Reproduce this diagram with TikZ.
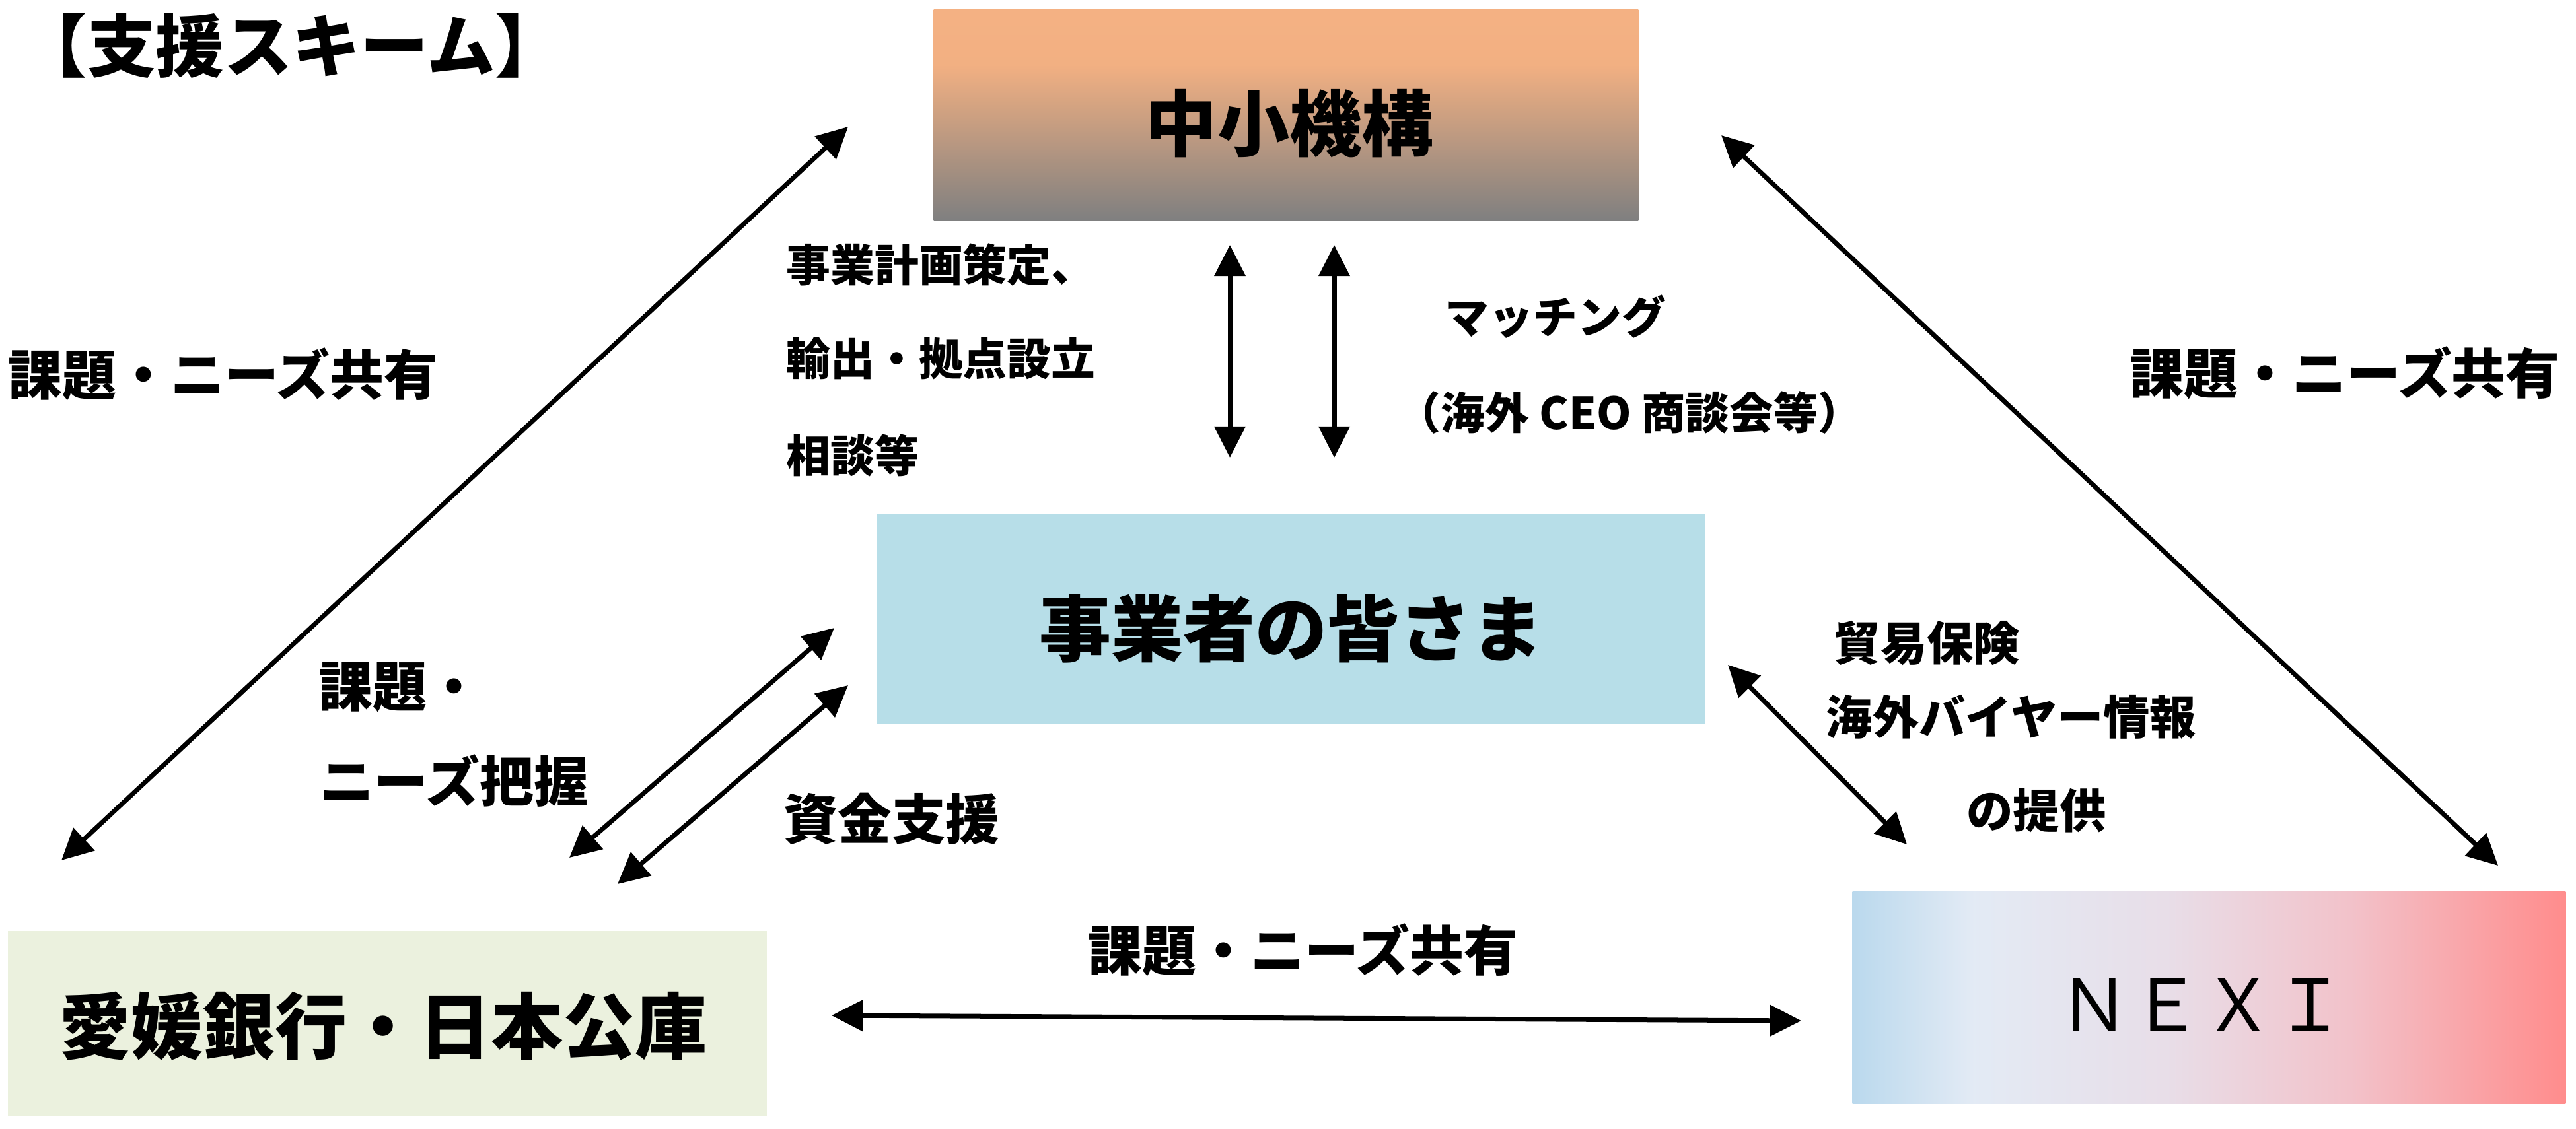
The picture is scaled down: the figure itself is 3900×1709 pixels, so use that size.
\documentclass[tikz,border=0pt]{standalone}
\usepackage{fontspec}
\setmainfont{Noto Sans CJK JP}
\usetikzlibrary{arrows.meta}
\definecolor{bankgreen}{RGB}{235,241,222}
\definecolor{jigyoblue}{RGB}{183,222,232}
\pgfdeclareverticalshading{jshade}{100bp}{rgb(0bp)=(0.50,0.50,0.50); rgb(25bp)=(0.50,0.50,0.50); rgb(62bp)=(0.95,0.69,0.51); rgb(75bp)=(0.957,0.694,0.514); rgb(100bp)=(0.957,0.694,0.514)}
\pgfdeclarehorizontalshading{nshade}{100bp}{rgb(0bp)=(0.73,0.85,0.93); rgb(25bp)=(0.73,0.85,0.93); rgb(33.5bp)=(0.89,0.92,0.96); rgb(47bp)=(0.91,0.87,0.91); rgb(60bp)=(0.95,0.76,0.79); rgb(75bp)=(1.0,0.55,0.55); rgb(100bp)=(1.0,0.55,0.55)}
\tikzset{
  boxtxt/.style={inner sep=0pt, font=\fontsize{31pt}{37pt}\selectfont\bfseries},
  smlbl/.style={inner sep=0pt, font=\fontsize{19pt}{23pt}\selectfont\bfseries},
  midlbl/.style={inner sep=0pt, font=\fontsize{20pt}{24pt}\selectfont\bfseries},
  biglbl/.style={inner sep=0pt, font=\fontsize{23.3pt}{28pt}\selectfont\bfseries},
  plainbox/.style={inner sep=0pt, draw=none},
  dbl/.style={line width=0.07cm, {Triangle[length=0.47cm,width=0.46cm]}-{Triangle[length=0.47cm,width=0.46cm]}},
}
\begin{document}
\begin{tikzpicture}[x=0.01cm,y=-0.01cm]
\useasboundingbox[fill=white] (0,0) rectangle (3900,1709);
% boxes
\node[plainbox, shading=jshade, minimum width=10.66cm, minimum height=3.18cm] (chusho) at (1947,174) {};
\node[plainbox, fill=jigyoblue, minimum width=12.53cm, minimum height=3.19cm] (jigyo) at (1954.5,937.5) {};
\node[plainbox, fill=bankgreen, minimum width=11.49cm, minimum height=2.81cm] (bank) at (586.5,1550.5) {};
\node[plainbox, shading=nshade, minimum width=10.79cm, minimum height=3.20cm] (nexi) at (3344.5,1511) {};
% box texts
\node[boxtxt] (tchusho) at (1952,187) {中小機構};
\node[boxtxt] (tjigyo) at (1955,952) {事業者の皆さま};
\node[boxtxt] (tbank) at (580,1554) {愛媛銀行・日本公庫};
\node[inner sep=0pt, font=\fontsize{31pt}{37pt}\selectfont] (tnexi) at (3334,1522) {ＮＥＸＩ};
% title
\node[inner sep=0pt, font=\fontsize{29.4pt}{34pt}\selectfont\bfseries] (title) at (441,69) {【支援スキーム】};
% labels
\node[smlbl, anchor=west] (l1) at (1190,401) {事業計画策定、};
\node[smlbl, anchor=west] (l2) at (1190,543) {輸出・拠点設立};
\node[smlbl, anchor=west] (l3) at (1190,690) {相談等};
\node[smlbl] (m1) at (2355,480) {マッチング};
\node[smlbl] (m2) at (2467,625) {（海外 CEO 商談会等）};
\node[biglbl] (kl) at (338,567) {課題・ニーズ共有};
\node[biglbl] (kr) at (3550,565) {課題・ニーズ共有};
\node[biglbl] (kb) at (1973,1439) {課題・ニーズ共有};
\node[biglbl, anchor=west] (ka1) at (482,1041) {課題・};
\node[biglbl, anchor=west] (ka2) at (484,1182) {ニーズ把握};
\node[biglbl] (shikin) at (1350,1240) {資金支援};
\node[midlbl, anchor=west] (n1) at (2776,974) {貿易保険};
\node[midlbl, anchor=west] (n2) at (2764,1086) {海外バイヤー情報};
\node[midlbl] (n3) at (3083,1228) {の提供};
% arrow end points
\coordinate (aL1) at (93,1303);   \coordinate (aL2) at (1284,192);
\coordinate (aR1) at (2606,205);  \coordinate (aR2) at (3782,1311);
\coordinate (aV1a) at (1862,371); \coordinate (aV1b) at (1862,693);
\coordinate (aV2a) at (2020,371); \coordinate (aV2b) at (2020,693);
\coordinate (aD1a) at (862,1299); \coordinate (aD1b) at (1263,951);
\coordinate (aD2a) at (935,1339); \coordinate (aD2b) at (1284,1038);
\coordinate (aN1) at (2616,1007); \coordinate (aN2) at (2887,1279);
\coordinate (aB1) at (1259,1538); \coordinate (aB2) at (2727,1546);
% arrows
\draw[dbl] (aL1) -- (aL2);
\draw[dbl] (aR1) -- (aR2);
\draw[dbl] (aV1a) -- (aV1b);
\draw[dbl] (aV2a) -- (aV2b);
\draw[dbl] (aD1a) -- (aD1b);
\draw[dbl] (aD2a) -- (aD2b);
\draw[dbl] (aN1) -- (aN2);
\draw[dbl] (aB1) -- (aB2);
\end{tikzpicture}
\end{document}
